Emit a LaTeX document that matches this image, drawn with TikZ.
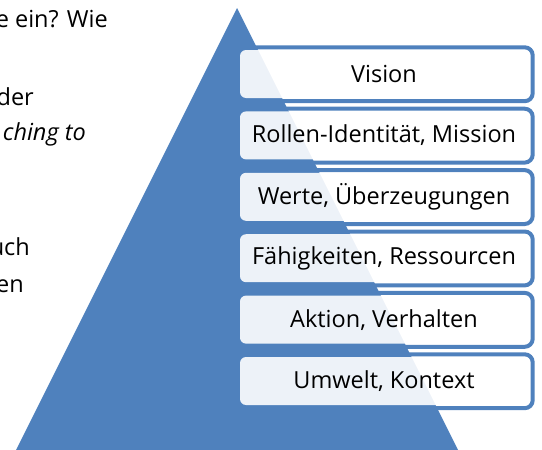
\documentclass[tikz,border=0pt]{standalone}
\usepackage{fontspec}
\setmainfont{Open Sans}
\usetikzlibrary{positioning,backgrounds}
\definecolor{pyrblue}{RGB}{79,129,189}
\tikzset{
  itembox/.style={rectangle, rounded corners=6pt, fill=white, fill opacity=0.9, text opacity=1,
    minimum width=288pt, minimum height=48pt, inner sep=0pt, font=\fontsize{23.5}{29}\selectfont},
  itemframe/.style={draw=pyrblue, line width=4pt, rounded corners=8pt},
  sidetext/.style={anchor=base east, inner sep=0pt, font=\fontsize{23.5}{29}\selectfont}
}
\begin{document}
\begin{tikzpicture}[x=1pt,y=-1pt]
\useasboundingbox (0,0) rectangle (542,450);
\clip (0,0) rectangle (542,450);
% text of the page, cut off at the left
\node[sidetext] (line1) at (108,27) {e ein? Wie};
\node[sidetext] (line2) at (34,105) {der};
\node[sidetext, font=\fontsize{23.5}{29}\selectfont\itshape] (line3) at (86,140) {ching to};
\node[sidetext] (line4) at (30,255) {uch};
\node[sidetext] (line5) at (24,292) {en};
% levels
\node[itembox] (vision) at (384,74) {Vision};
\node[itembox, below=13pt of vision] (role) {Rollen-Identität, Mission};
\node[itembox, below=13pt of role] (values) {Werte, Überzeugungen};
\node[itembox, below=13pt of values] (skills) {Fähigkeiten, Ressourcen};
\node[itembox, below=13pt of skills] (action) {Aktion, Verhalten};
\node[itembox, below=13pt of action] (context) {Umwelt, Kontext};
\begin{scope}[on background layer]
\coordinate (apex) at (237,8);
\coordinate (baseleft) at (16,450);
\coordinate (baseright) at (458,450);
\fill[pyrblue] (apex) -- (baseleft) -- (baseright) -- cycle;
\draw[itemframe] ([xshift=2pt,yshift=2.5pt]vision.north west) rectangle ([xshift=4.5pt,yshift=-3pt]vision.south east);
\draw[itemframe] ([xshift=2pt,yshift=2.5pt]role.north west) rectangle ([xshift=4.5pt,yshift=-3pt]role.south east);
\draw[itemframe] ([xshift=2pt,yshift=2.5pt]values.north west) rectangle ([xshift=4.5pt,yshift=-3pt]values.south east);
\draw[itemframe] ([xshift=2pt,yshift=2.5pt]skills.north west) rectangle ([xshift=4.5pt,yshift=-3pt]skills.south east);
\draw[itemframe] ([xshift=2pt,yshift=2.5pt]action.north west) rectangle ([xshift=4.5pt,yshift=-3pt]action.south east);
\draw[itemframe] ([xshift=2pt,yshift=2.5pt]context.north west) rectangle ([xshift=4.5pt,yshift=-3pt]context.south east);
\end{scope}
\end{tikzpicture}
\end{document}
